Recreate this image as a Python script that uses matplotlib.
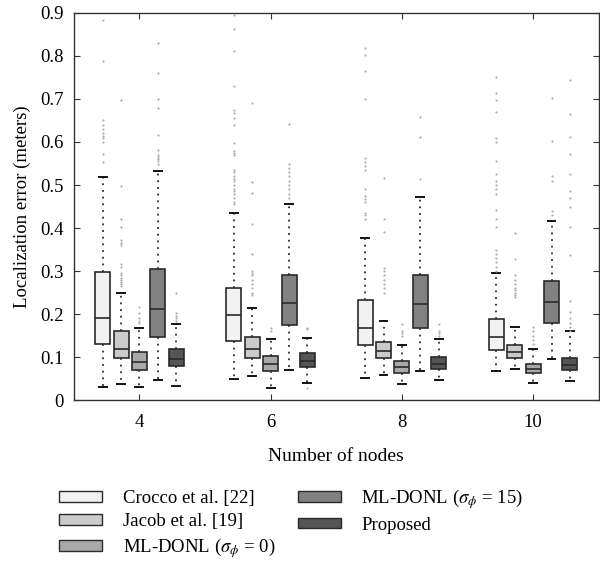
import numpy as np
import matplotlib.pyplot as plt
from matplotlib.patches import Patch

plt.rcParams['font.family'] = ['Liberation Serif', 'DejaVu Serif']
plt.rcParams['mathtext.fontset'] = 'stix'

nodes = [4, 6, 8, 10]
methods = ['Crocco et al. [22]', 'Jacob et al. [19]', r'ML-DONL ($\sigma_\phi$ = 0)',
           r'ML-DONL ($\sigma_\phi$ = 15)', 'Proposed']
colors = ['#f2f2f2', '#cbcbcb', '#a9a9a9', '#818181', '#555555']

# per method, per node count: [whislo, q1, med, q3, whishi]
crocco = [[0.031, 0.130, 0.190, 0.299, 0.519],
          [0.048, 0.137, 0.199, 0.261, 0.436],
          [0.052, 0.128, 0.168, 0.233, 0.378],
          [0.067, 0.116, 0.146, 0.188, 0.295]]
jacob = [[0.037, 0.097, 0.120, 0.160, 0.250],
         [0.056, 0.099, 0.120, 0.146, 0.215],
         [0.058, 0.097, 0.114, 0.136, 0.184],
         [0.073, 0.097, 0.111, 0.128, 0.170]]
donl0 = [[0.031, 0.070, 0.089, 0.111, 0.168],
         [0.029, 0.068, 0.085, 0.102, 0.141],
         [0.037, 0.064, 0.078, 0.091, 0.128],
         [0.039, 0.062, 0.072, 0.084, 0.118]]
donl15 = [[0.047, 0.147, 0.213, 0.304, 0.533],
          [0.071, 0.174, 0.226, 0.290, 0.457],
          [0.068, 0.168, 0.223, 0.292, 0.473],
          [0.095, 0.180, 0.227, 0.277, 0.417]]
proposed = [[0.033, 0.080, 0.095, 0.119, 0.178],
            [0.041, 0.076, 0.092, 0.109, 0.145],
            [0.047, 0.072, 0.083, 0.101, 0.141],
            [0.044, 0.070, 0.081, 0.099, 0.161]]

# outliers
crocco_out = [[0.884, 0.789, 0.651, 0.64, 0.63, 0.62, 0.615, 0.61, 0.60, 0.572, 0.553],
              [0.895, 0.862, 0.812, 0.730, 0.674, 0.667, 0.655, 0.64, 0.598, 0.58, 0.575,
               0.57, 0.535, 0.53, 0.52, 0.515, 0.51, 0.50, 0.49, 0.485, 0.48, 0.47, 0.46, 0.455],
              [0.819, 0.802, 0.764, 0.699, 0.562, 0.553, 0.545, 0.535, 0.491, 0.475, 0.468,
               0.46, 0.436, 0.43, 0.42],
              [0.752, 0.715, 0.698, 0.670, 0.61, 0.60, 0.556, 0.525, 0.51, 0.50, 0.49, 0.48,
               0.442, 0.42, 0.403, 0.35, 0.34, 0.33, 0.32, 0.31, 0.30]]
jacob_out = [[0.698, 0.498, 0.422, 0.403, 0.372, 0.365, 0.36, 0.316, 0.31, 0.295, 0.29,
              0.285, 0.28, 0.275, 0.27, 0.265],
             [0.690, 0.508, 0.481, 0.409, 0.339, 0.30, 0.295, 0.29, 0.28, 0.27, 0.26, 0.25, 0.245],
             [0.517, 0.420, 0.391, 0.308, 0.30, 0.29, 0.28, 0.27, 0.26, 0.25],
             [0.389, 0.327, 0.29, 0.28, 0.27, 0.26, 0.255, 0.25, 0.245, 0.24]]
donl0_out = [[0.217, 0.202, 0.19, 0.185, 0.18],
             [0.167, 0.16],
             [0.177, 0.16, 0.155, 0.15],
             [0.17, 0.16, 0.15, 0.14, 0.13]]
donl15_out = [[0.829, 0.760, 0.700, 0.680, 0.616, 0.581, 0.57, 0.565, 0.56, 0.555, 0.55],
              [0.641, 0.549, 0.54, 0.53, 0.52, 0.51, 0.50, 0.49, 0.48, 0.47],
              [0.657, 0.611, 0.514],
              [0.703, 0.602, 0.52, 0.51, 0.44, 0.43]]
proposed_out = [[0.250, 0.202, 0.195, 0.19, 0.185],
                [0.168, 0.165, 0.029],
                [0.177, 0.16, 0.155, 0.15],
                [0.744, 0.664, 0.612, 0.572, 0.526, 0.487, 0.47, 0.45, 0.403, 0.337, 0.231,
                 0.204, 0.19, 0.18, 0.17, 0.16]]

all_stats = [crocco, jacob, donl0, donl15, proposed]
all_out = [crocco_out, jacob_out, donl0_out, donl15_out, proposed_out]
offsets = [-0.56, -0.28, 0.0, 0.28, 0.56]

fig = plt.figure(figsize=(6, 5.62), dpi=100)
ax = fig.add_axes([0.123, 0.288, 0.875, 0.689])

for m in range(5):
    bstats = []
    for g in range(4):
        lo, q1, med, q3, hi = all_stats[m][g]
        bstats.append(dict(whislo=lo, q1=q1, med=med, q3=q3, whishi=hi,
                           fliers=np.array(all_out[m][g])))
    pos = [n + offsets[m] for n in nodes]
    ax.bxp(bstats, positions=pos, widths=0.23, capwidths=0.12, patch_artist=True,
           boxprops=dict(facecolor=colors[m], edgecolor='#2a2a2a', linewidth=1.2),
           medianprops=dict(color='#2a2a2a', linewidth=1.2),
           whiskerprops=dict(color='#2a2a2a', linewidth=1.3, linestyle=(0, (1, 2.7))),
           capprops=dict(color='#111111', linewidth=1.4),
           flierprops=dict(marker='o', markersize=1.2, markerfacecolor='#b0b0b0',
                           markeredgecolor='#b0b0b0', markeredgewidth=0.3, linestyle='none'))

ax.set_xlim(3, 11)
ax.set_ylim(0, 0.9)
ax.set_xticks(nodes)
ax.set_xticklabels([str(n) for n in nodes])
ax.set_yticks(np.arange(0, 0.91, 0.1))
ax.set_yticklabels(['0', '0.1', '0.2', '0.3', '0.4', '0.5', '0.6', '0.7', '0.8', '0.9'])
ax.tick_params(direction='in', top=True, right=True, labelsize=13.5, length=4,
               color='#333333')
ax.tick_params(axis='x', pad=10)
ax.tick_params(axis='y', pad=7)
for s in ax.spines.values():
    s.set_color('#333333')
    s.set_linewidth(1.0)
ax.set_xlabel('Number of nodes', fontsize=14, labelpad=12)
ax.set_ylabel('Localization error (meters)', fontsize=13.5, labelpad=7)

handles = [Patch(facecolor=c, edgecolor='#2a2a2a', linewidth=1.0) for c in colors]
fig.legend(handles, methods,
           loc='upper left', bbox_to_anchor=(0.07, 0.163), ncol=2, frameon=False,
           fontsize=13.5, handlelength=2.3, handleheight=0.5, labelspacing=0.3,
           columnspacing=1.2, handletextpad=1.1)

fig.savefig('out.png', dpi=100)
